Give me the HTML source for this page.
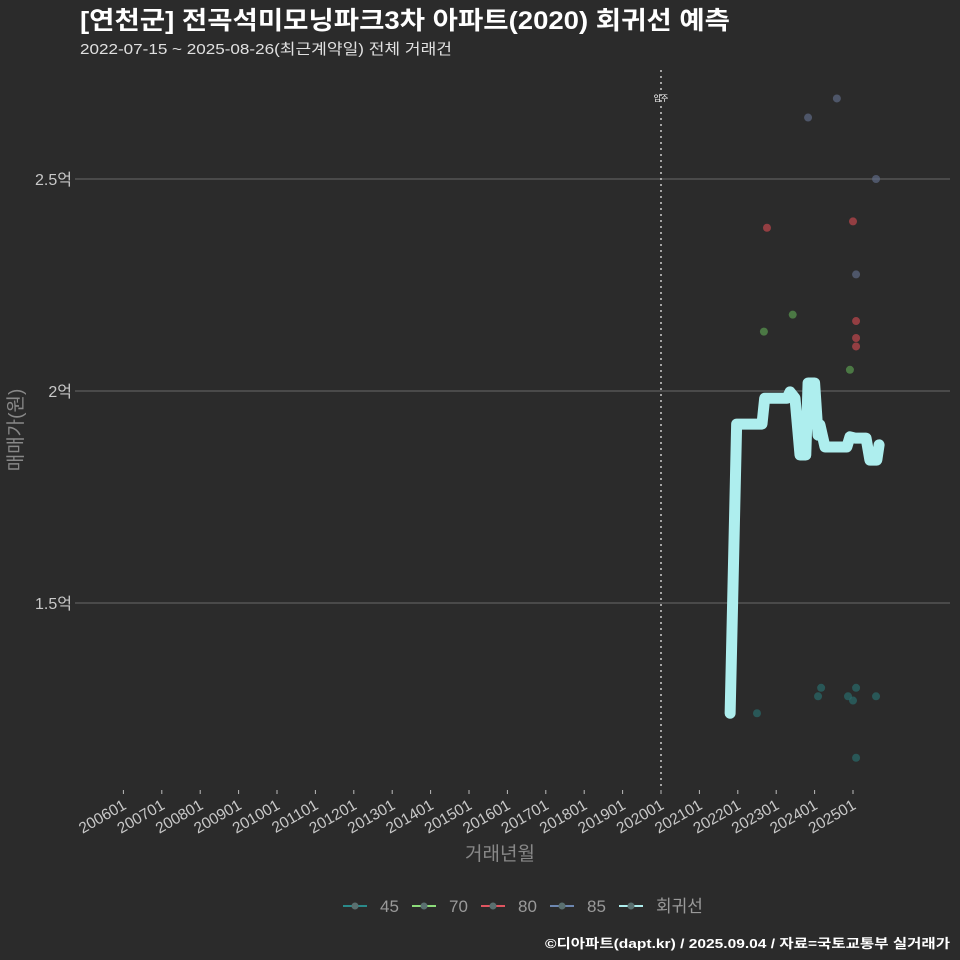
<!DOCTYPE html>
<html><head><meta charset="utf-8"><style>
body{margin:0;background:#2b2b2b;}
svg{display:block;font-family:"Liberation Sans","Noto Sans CJK KR",sans-serif;}
</style></head><body>
<svg id="chart" width="960" height="960" viewBox="0 0 960 960">
<rect width="960" height="960" fill="#2b2b2b"/>
<text x="80" y="29" fill="#ffffff" font-size="25" font-weight="bold" textLength="650" lengthAdjust="spacingAndGlyphs">[연천군] 전곡석미모닝파크3차 아파트(2020) 회귀선 예측</text>
<text x="80" y="54" fill="#e0e0e0" font-size="15" textLength="372" lengthAdjust="spacingAndGlyphs">2022-07-15 ~ 2025-08-26(최근계약일) 전체 거래건</text>
<g id="grid"></g>
<g id="marks"></g>
<g id="xticks"></g>
<text x="500" y="860" fill="#888" font-size="19" text-anchor="middle">거래년월</text>
<text transform="translate(22,430) rotate(-90)" fill="#888" font-size="19" text-anchor="middle">매매가(원)</text>
<g id="legend"></g>
<text x="950" y="948" fill="#fff" font-size="13" font-weight="bold" text-anchor="end" textLength="405" lengthAdjust="spacingAndGlyphs">©디아파트(dapt.kr) / 2025.09.04 / 자료=국토교통부 실거래가</text>
</svg>
<script>
const yTicks=[1.5,2.0,2.5];
const yTickLabels=["1.5억","2억","2.5억"];
const xTickYears=[2006,2007,2008,2009,2010,2011,2012,2013,2014,2015,2016,2017,2018,2019,2020,2021,2022,2023,2024,2025];
const xTickLabels=["200601","200701","200801","200901","201001","201101","201201","201301","201401","201501","201601","201701","201801","201901","202001","202101","202201","202301","202401","202501"];
const s45x=[2022.5,2024.09,2024.17,2024.87,2025.0,2025.08,2025.6,2025.08];
const s45y=[1.24,1.28,1.30,1.28,1.27,1.30,1.28,1.135];
const s70x=[2022.68,2023.43,2024.92];
const s70y=[2.14,2.18,2.05];
const s80x=[2022.76,2025.0,2025.08,2025.08,2025.08];
const s80y=[2.385,2.40,2.165,2.125,2.105];
const s85x=[2023.83,2024.58,2025.6,2025.08];
const s85y=[2.645,2.69,2.5,2.275];
const regX=[2021.8,2021.97,2022.63,2022.7,2023.28,2023.36,2023.49,2023.62,2023.77,2023.83,2024.0,2024.09,2024.14,2024.27,2024.84,2024.92,2025.05,2025.34,2025.44,2025.62,2025.68];
const regY=[1.24,1.922,1.922,1.983,1.983,1.998,1.983,1.849,1.849,2.019,2.019,1.896,1.92,1.868,1.868,1.892,1.889,1.889,1.837,1.837,1.873];
const ns="http://www.w3.org/2000/svg";
const X=v=>123.4+(v-2006)*38.4;
const Y=v=>391-(v-2.0)*424;
function mk(tag,attrs,parent){const e=document.createElementNS(ns,tag);for(const k in attrs)e.setAttribute(k,attrs[k]);parent.appendChild(e);return e;}
const grid=document.getElementById('grid'),marks=document.getElementById('marks'),xt=document.getElementById('xticks'),lg=document.getElementById('legend');
yTicks.forEach((t,i)=>{
 const l=mk('line',{x1:75,x2:950,y1:Y(t),y2:Y(t),stroke:'#555','stroke-width':1.5},grid);
 
 
 const tx=mk('text',{x:72,y:Y(t)+6,fill:'#c8c8c8','font-size':16,'text-anchor':'end'},grid);
 tx.textContent=yTickLabels[i];
 
 
});
const vl=mk('line',{x1:X(2020),x2:X(2020),y1:70,y2:790,stroke:'#ccc','stroke-width':1.5,'stroke-dasharray':'2,4'},grid);


const vt=mk('text',{x:X(2020),y:101,fill:'#fff','font-size':8,'text-anchor':'middle'},grid);
vt.textContent='입주';


xTickYears.forEach((yr,i)=>{
 const tk=mk('line',{x1:X(yr),x2:X(yr),y1:790,y2:794,stroke:'#bbb','stroke-width':1},xt);
 
 
 const t=mk('text',{transform:`translate(${X(yr)+4},${808}) rotate(-30)`,fill:'#c8c8c8','font-size':15.5,'text-anchor':'end'},xt);
 t.textContent=xTickLabels[i];
 
 
});
function pts(xs,ys,col,name){xs.forEach((x,i)=>{
 const c=mk('circle',{cx:X(x),cy:Y(ys[i]),r:4,fill:col,opacity:0.7},marks);
 
 
});}
pts(s45x,s45y,'#2a6b6b','point-45');
pts(s70x,s70y,'#5a9a50','point-70');
pts(s80x,s80y,'#c0474d','point-80');
pts(s85x,s85y,'#5e6a85','point-85');
const reg=mk('polyline',{points:regX.map((x,i)=>X(x)+','+Y(regY[i])).join(' '),fill:'none',stroke:'#aeeeee','stroke-width':11,'stroke-linejoin':'round','stroke-linecap':'round'},marks);


const legItems=[['45','#2a8a8a',343],['70','#8cdc7a',412],['80','#e05560',481],['85','#6d87b0',550],['회귀선','#aeeeee',619]];
legItems.forEach(([lab,col,x])=>{
 const g=mk('g',{},lg);
 
 
 mk('line',{x1:x,x2:x+24,y1:906,y2:906,stroke:col,'stroke-width':2},g);
 mk('circle',{cx:x+12,cy:906,r:3.5,fill:'#5a7070'},g);
 const t=mk('text',{x:x+37,y:912,fill:'#9a9a9a','font-size':17},g);
 t.textContent=lab;
});
</script>
</body></html>
